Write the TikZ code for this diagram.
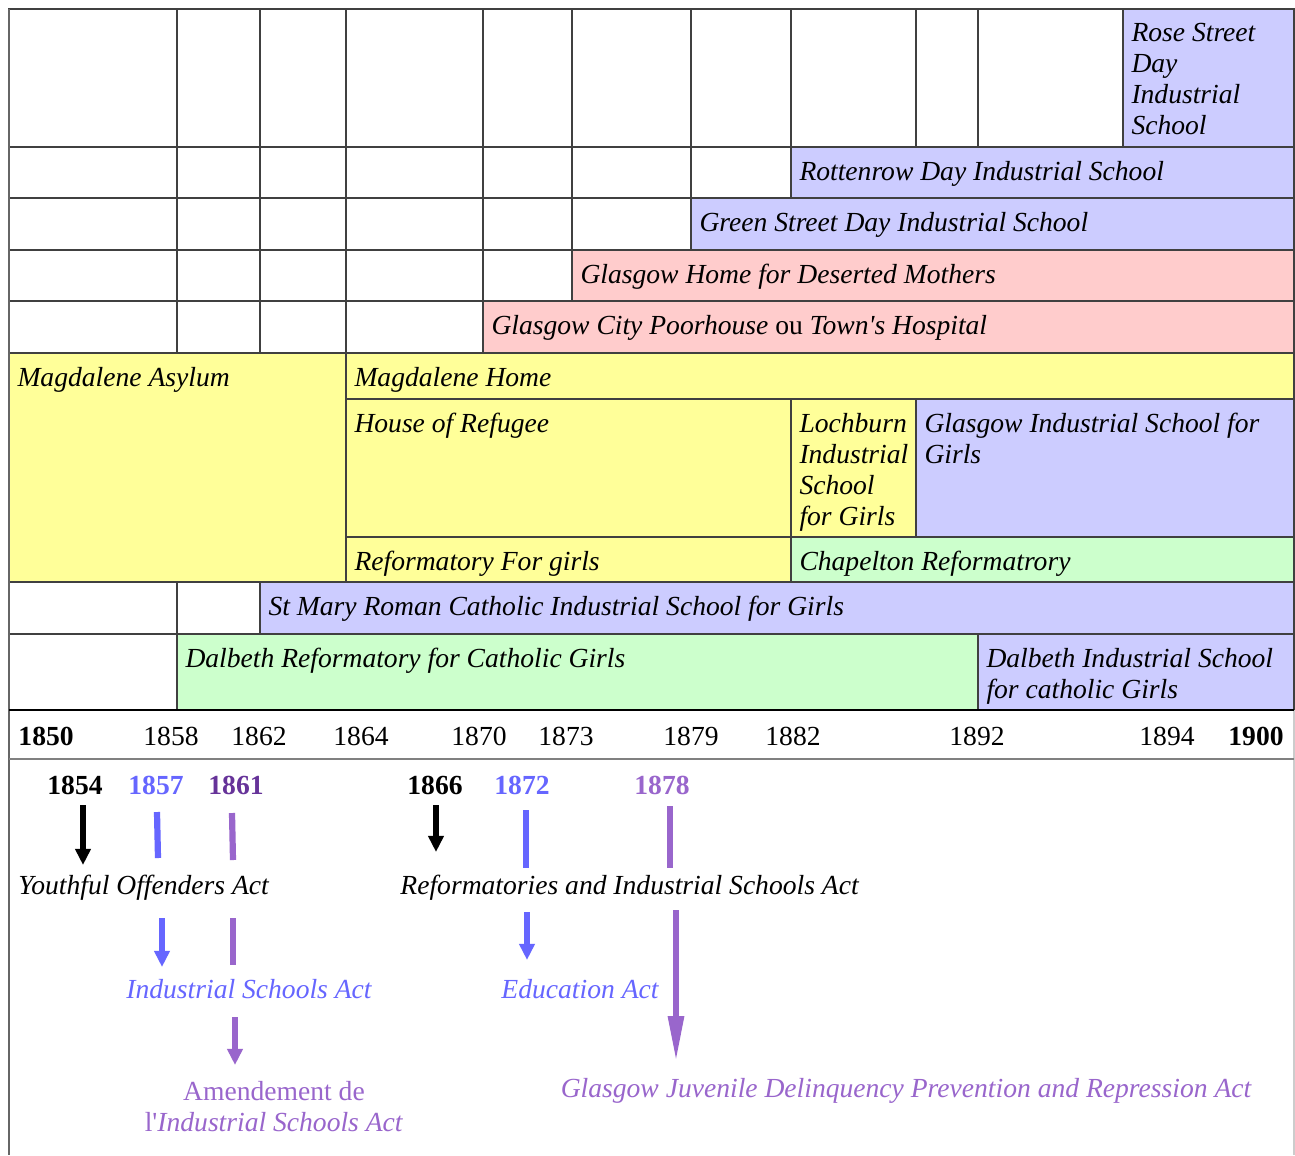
\documentclass[tikz,border=0pt]{standalone}
\usepackage{fontspec}
\setmainfont{Liberation Serif}
\usepackage{xcolor}
\usetikzlibrary{arrows.meta}

\definecolor{bluecell}{HTML}{CCCCFF}
\definecolor{pinkcell}{HTML}{FFCCCC}
\definecolor{yellowcell}{HTML}{FFFF99}
\definecolor{greencell}{HTML}{CCFFCC}
\definecolor{actblue}{HTML}{6666FF}
\definecolor{actpurple}{HTML}{9966CC}
\definecolor{darkpurple}{HTML}{663399}

\tikzset{
  cell/.style={draw=black!75, line width=0.5pt},
  lbl/.style={anchor=north west, inner xsep=3.5pt, inner ysep=6pt, align=left,
              font=\fontsize{12}{13.5}\selectfont\itshape},
  yr/.style={inner sep=0pt, font=\fontsize{12}{13.5}\selectfont},
  yrb/.style={inner sep=0pt, font=\fontsize{12}{13.5}\selectfont\bfseries},
  act/.style={inner sep=0pt, font=\fontsize{12}{13.5}\selectfont\itshape},
  bar/.style={line width=2.7pt},
  arr/.style={bar, -{Triangle[width=6.5pt,length=7pt]}},
}

\begin{document}
\begin{tikzpicture}[x=0.435pt, y=-0.435pt]
\useasboundingbox (0,0) rectangle (1295,1155);
\fill[white] (0,0) rectangle (1295,1155);

\foreach \a/\b in {9/177,177/260,260/346,346/483,483/572,572/691,691/791,791/916,916/978,978/1123}{
    \draw[cell] (\a,9) rectangle (\b,147);
}
\foreach \a/\b in {9/177,177/260,260/346,346/483,483/572,572/691,691/791}{
    \draw[cell] (\a,147) rectangle (\b,198);
}
\foreach \a/\b in {9/177,177/260,260/346,346/483,483/572,572/691}{
    \draw[cell] (\a,198) rectangle (\b,250);
}
\foreach \a/\b in {9/177,177/260,260/346,346/483,483/572}{
    \draw[cell] (\a,250) rectangle (\b,301);
}
\foreach \a/\b in {9/177,177/260,260/346,346/483}{
    \draw[cell] (\a,301) rectangle (\b,353);
}
\foreach \a/\b in {9/177,177/260}{
    \draw[cell] (\a,582) rectangle (\b,634);
}
\draw[cell] (9,634) rectangle (177,710);

\draw[cell, fill=bluecell] (1123,9) rectangle (1294,147);
\node[lbl] (rose) at (1123,9) {Rose Street\\Day\\Industrial\\School};
\draw[cell, fill=bluecell] (791,147) rectangle (1294,198);
\node[lbl] (rotten) at (791,147) {Rottenrow Day Industrial School};
\draw[cell, fill=bluecell] (691,198) rectangle (1294,250);
\node[lbl] (green) at (691,198) {Green Street Day Industrial School};
\draw[cell, fill=pinkcell] (572,250) rectangle (1294,301);
\node[lbl] (mothers) at (572,250) {Glasgow Home for Deserted Mothers};
\draw[cell, fill=pinkcell] (483,301) rectangle (1294,353);
\node[lbl] (poor) at (483,301) {Glasgow City Poorhouse \textup{ou} Town\textquotesingle s Hospital};
\draw[cell, fill=yellowcell] (9,353) rectangle (346,582);
\node[lbl] (asylum) at (9,353) {Magdalene Asylum};
\draw[cell, fill=yellowcell] (346,353) rectangle (1294,399);
\node[lbl] (home) at (346,353) {Magdalene Home};
\draw[cell, fill=yellowcell] (346,399) rectangle (791,537);
\node[lbl] (refuge) at (346,399) {House of Refugee};
\draw[cell, fill=yellowcell] (791,399) rectangle (916,537);
\node[lbl] (lochburn) at (791,399) {Lochburn\\Industrial\\School\\for Girls};
\draw[cell, fill=bluecell] (916,399) rectangle (1294,537);
\node[lbl] (gisg) at (916,399) {Glasgow Industrial School for\\Girls};
\draw[cell, fill=yellowcell] (346,537) rectangle (791,582);
\node[lbl] (reform) at (346,537) {Reformatory For girls};
\draw[cell, fill=greencell] (791,537) rectangle (1294,582);
\node[lbl] (chapel) at (791,537) {Chapelton Reformatrory};
\draw[cell, fill=bluecell] (260,582) rectangle (1294,634);
\node[lbl] (stmary) at (260,582) {St Mary Roman Catholic Industrial School for Girls};
\draw[cell, fill=greencell] (177,634) rectangle (978,710);
\node[lbl] (dalref) at (177,634) {Dalbeth Reformatory for Catholic Girls};
\draw[cell, fill=bluecell] (978,634) rectangle (1294,710);
\node[lbl] (dalind) at (978,634) {Dalbeth Industrial School\\for catholic Girls};

\draw[black!60, line width=0.6pt] (9,9) -- (9,1155);
\draw[black!20, line width=0.6pt] (1294,710) -- (1294,1155);
\draw[black, line width=0.8pt] (9,710) -- (1294,710);
\draw[black!50, line width=1.2pt] (9,759) -- (1294,759);

\node[yrb, anchor=west] (t1850) at (18,736) {1850};
\foreach \yr/\x in {1858/171,1862/259,1864/361,1870/479,1873/566,1879/691,1882/793,1892/977,1894/1167}{
    \node[yr] (t\yr) at (\x,736) {\yr};
}
\node[yrb] (t1900) at (1256,736) {1900};

\node[yrb] (n1854) at (75,785) {1854};
\node[yrb, actblue] (n1857) at (156,785) {1857};
\node[yrb, darkpurple] (n1861) at (236,785) {1861};
\node[yrb] (n1866) at (435,785) {1866};
\node[yrb, actblue] (n1872) at (522,785) {1872};
\node[yrb, actpurple] (n1878) at (662,785) {1878};

\node[act, anchor=west] (youth) at (18,888) {Youthful Offenders Act};
\node[act, anchor=west] (reformact) at (400,888) {Reformatories and Industrial Schools Act};
\node[act, actblue] (indus) at (249,989) {Industrial Schools Act};
\node[act, actblue] (educ) at (580,989) {Education Act};
\node[yr, actpurple, align=center] (amend) at (274,1107) {Amendement de\\l\textquotesingle\textit{Industrial Schools Act}};
\node[act, actpurple] (juv) at (906,1091) {Glasgow Juvenile Delinquency Prevention and Repression Act};

\coordinate (a1) at (83,805);
\coordinate (a2) at (83,865);
\coordinate (b1) at (157,812);
\coordinate (b2) at (158,858);
\coordinate (b3) at (162,918);
\coordinate (b4) at (162,967);
\coordinate (c1) at (232,813);
\coordinate (c2) at (233,860);
\coordinate (c3) at (233,918);
\coordinate (c4) at (233,965);
\coordinate (c5) at (235,1017);
\coordinate (c6) at (235,1065);
\coordinate (d1) at (436,805);
\coordinate (d2) at (436,852);
\coordinate (e1) at (526,810);
\coordinate (e2) at (526,868);
\coordinate (e3) at (527,912);
\coordinate (e4) at (527,960);
\coordinate (f1) at (670,806);
\coordinate (f2) at (670,868);
\coordinate (f3) at (676,910);
\coordinate (f4) at (676,1062);

\draw[arr, line width=2.2pt] (a1) -- (a2);
\draw[bar, actblue] (b1) -- (b2);
\draw[arr, actblue] (b3) -- (b4);
\draw[bar, actpurple] (c1) -- (c2);
\draw[bar, actpurple] (c3) -- (c4);
\draw[arr, actpurple] (c5) -- (c6);
\draw[arr, line width=2.2pt] (d1) -- (d2);
\draw[bar, actblue] (e1) -- (e2);
\draw[arr, actblue] (e3) -- (e4);
\draw[bar, actpurple] (f1) -- (f2);
\draw[bar, actpurple, -{Triangle[width=6.5pt,length=20pt]}] (f3) -- (f4);
\end{tikzpicture}
\end{document}
